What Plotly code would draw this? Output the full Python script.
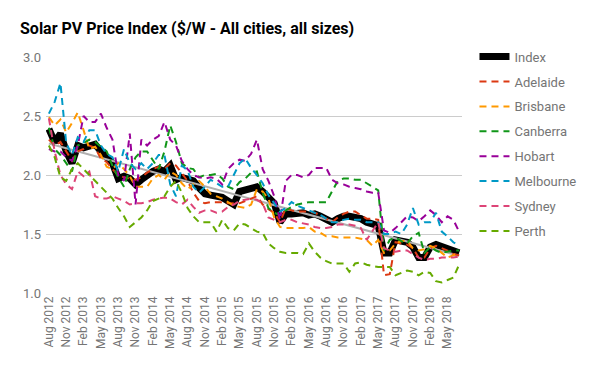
import numpy as np
import pandas as pd
import plotly.graph_objects as go

months = [d.strftime("%b %Y") for d in pd.date_range("2012-08-01", periods=72, freq="MS")]
tick_labels = months[::3]

index_vals = [2.39, 2.28, 2.35, 2.20, 2.10, 2.25, 2.23, 2.25, 2.26, 2.20, 2.15, 2.10,
              1.97, 1.99, 1.97, 1.92, 1.96, 2.00, 2.03, 2.05, 2.03, 2.08, 1.96, 1.98,
              1.97, 1.95, 1.89, 1.84, 1.83, 1.82, 1.81, 1.78, 1.75, 1.86, 1.87, 1.88,
              1.90, 1.86, 1.80, 1.76, 1.60, 1.67, 1.67, 1.68, 1.68, 1.66, 1.67, 1.65,
              1.62, 1.60, 1.63, 1.65, 1.65, 1.64, 1.63, 1.60, 1.59, 1.57, 1.34, 1.34,
              1.45, 1.44, 1.43, 1.39, 1.30, 1.30, 1.39, 1.41, 1.39, 1.37, 1.35, 1.34]
adelaide = [2.30, 2.25, 2.28, 2.20, 2.12, 2.20, 2.22, 2.25, 2.23, 2.14, 2.11, 2.05,
            2.00, 1.98, 1.97, 1.96, 1.98, 2.02, 2.05, 2.07, 2.05, 2.10, 2.08, 2.02,
            1.95, 1.85, 1.78, 1.76, 1.77, 1.77, 1.77, 1.76, 1.76, 1.76, 1.78, 1.80,
            1.82, 1.75, 1.71, 1.68, 1.60, 1.72, 1.70, 1.69, 1.69, 1.69, 1.68, 1.66,
            1.63, 1.60, 1.64, 1.67, 1.69, 1.69, 1.66, 1.63, 1.63, 1.62, 1.15, 1.16,
            1.43, 1.42, 1.41, 1.38, 1.30, 1.30, 1.38, 1.40, 1.38, 1.36, 1.33, 1.32]
brisbane = [2.49, 2.42, 2.47, 2.36, 2.44, 2.53, 2.38, 2.22, 2.24, 2.17, 2.07, 2.05,
            2.10, 2.05, 1.99, 1.90, 1.90, 1.90, 1.97, 2.00, 1.96, 2.03, 2.00, 1.93,
            1.88, 1.92, 1.95, 1.90, 1.84, 1.82, 1.80, 1.77, 1.74, 1.73, 1.72, 1.75,
            1.88, 1.86, 1.80, 1.64, 1.56, 1.55, 1.55, 1.55, 1.55, 1.56, 1.52, 1.51,
            1.48, 1.48, 1.47, 1.47, 1.47, 1.47, 1.46, 1.45, 1.40, 1.45, 1.34, 1.36,
            1.42, 1.44, 1.44, 1.38, 1.36, 1.37, 1.40, 1.38, 1.34, 1.30, 1.32, 1.34]
canberra = [2.40, 2.22, 2.17, 2.10, 2.03, 2.25, 2.27, 2.30, 2.28, 2.24, 2.20, 2.08,
            1.98, 1.90, 2.05, 2.15, 2.20, 2.20, 2.12, 2.05, 2.20, 2.42, 2.28, 2.10,
            2.06, 2.05, 1.98, 2.00, 2.00, 2.01, 1.97, 1.90, 1.88, 1.94, 1.97, 2.02,
            2.03, 1.85, 1.72, 1.68, 1.66, 1.70, 1.73, 1.75, 1.76, 1.77, 1.77, 1.77,
            1.77, 1.86, 1.95, 1.97, 1.97, 1.96, 1.96, 1.93, 1.90, 1.87, 1.36, 1.45,
            1.47, 1.44, 1.42, 1.48, 1.51, 1.34, 1.39, 1.36, 1.34, 1.35, 1.36, 1.36]
hobart = [2.22, 2.20, 2.20, 2.15, 2.12, 2.25, 2.50, 2.45, 2.45, 2.52, 2.40, 2.30,
          2.00, 1.95, 2.35, 1.75, 2.30, 2.25, 2.30, 2.33, 2.45, 2.30, 2.25, 2.12,
          2.05, 2.00, 1.98, 1.97, 1.98, 1.97, 1.92, 2.05, 2.10, 2.13, 2.12, 2.18,
          2.30, 2.05, 1.95, 1.82, 1.62, 1.95, 2.00, 2.00, 1.98, 2.00, 2.06, 2.06,
          2.06, 1.96, 1.93, 1.92, 1.90, 1.89, 1.88, 1.86, 1.85, 1.85, 1.53, 1.51,
          1.55, 1.60, 1.65, 1.64, 1.61, 1.65, 1.70, 1.66, 1.60, 1.65, 1.62, 1.52]
melbourne = [2.52, 2.62, 2.78, 2.27, 2.17, 2.32, 2.28, 2.38, 2.38, 2.25, 2.18, 2.15,
             2.03, 2.22, 2.10, 2.05, 2.10, 2.05, 2.10, 2.17, 2.17, 1.92, 1.82, 2.08,
             2.04, 1.90, 1.85, 1.90, 1.96, 1.93, 1.90, 1.90, 2.00, 2.10, 2.14, 2.06,
             2.00, 1.93, 1.83, 1.76, 1.69, 1.72, 1.77, 1.74, 1.72, 1.70, 1.68, 1.66,
             1.63, 1.60, 1.60, 1.62, 1.63, 1.62, 1.62, 1.60, 1.60, 1.60, 1.50, 1.50,
             1.52, 1.50, 1.58, 1.72, 1.58, 1.60, 1.60, 1.68, 1.52, 1.48, 1.43, 1.40]
sydney = [2.48, 2.20, 2.00, 1.92, 1.88, 2.03, 1.99, 2.03, 1.82, 1.80, 1.80, 1.82,
          1.80, 1.78, 1.75, 1.76, 1.76, 1.77, 1.79, 1.80, 1.81, 1.80, 1.77, 1.75,
          1.79, 1.73, 1.68, 1.70, 1.70, 1.68, 1.69, 1.73, 1.75, 1.78, 1.79, 1.80,
          1.79, 1.76, 1.64, 1.62, 1.60, 1.62, 1.62, 1.60, 1.59, 1.58, 1.56, 1.55,
          1.55, 1.56, 1.58, 1.58, 1.58, 1.57, 1.55, 1.45, 1.52, 1.60, 1.38, 1.36,
          1.35, 1.36, 1.36, 1.33, 1.30, 1.28, 1.29, 1.29, 1.30, 1.30, 1.30, 1.31]
perth = [2.25, 2.15, 1.98, 1.95, 2.05, 2.10, 2.05, 2.00, 1.95, 1.90, 1.85, 1.80,
         1.72, 1.65, 1.56, 1.60, 1.64, 1.70, 1.78, 1.80, 1.82, 1.90, 1.95, 1.85,
         1.72, 1.65, 1.60, 1.60, 1.60, 1.52, 1.62, 1.55, 1.53, 1.59, 1.58, 1.55,
         1.52, 1.51, 1.42, 1.38, 1.35, 1.34, 1.34, 1.34, 1.33, 1.42, 1.35, 1.30,
         1.27, 1.25, 1.25, 1.25, 1.18, 1.25, 1.26, 1.24, 1.23, 1.22, 1.22, 1.22,
         1.15, 1.17, 1.19, 1.18, 1.15, 1.18, 1.17, 1.10, 1.09, 1.11, 1.13, 1.24]

cities = [("Adelaide", adelaide, "#dc3912"), ("Brisbane", brisbane, "#ff9900"),
          ("Canberra", canberra, "#109618"), ("Hobart", hobart, "#990099"),
          ("Melbourne", melbourne, "#0099c6"), ("Sydney", sydney, "#dd4477"),
          ("Perth", perth, "#66aa00")]

FONT = "Roboto"
GRAY = "#757575"

fig = go.Figure()
fig.add_trace(go.Scatter(x=months, y=index_vals, name="Index", mode="lines",
                         line=dict(color="black", width=7), legendgroup="Index"))
# linear trendline of the index
xi = np.arange(len(index_vals))
coef = np.polyfit(xi, index_vals, 1)
trend = np.polyval(coef, xi)
fig.add_trace(go.Scatter(x=months, y=trend, mode="lines", showlegend=False,
                         line=dict(color="#b0b0b0", width=2), hoverinfo="skip"))
for name, vals, col in cities:
    fig.add_trace(go.Scatter(x=months, y=vals, name=name, mode="lines", legendgroup=name,
                             line=dict(color=col, width=2, dash="7px,5px")))

fig.update_layout(
    width=600, height=371,
    margin=dict(l=46, r=138, t=57, b=78),
    paper_bgcolor="white", plot_bgcolor="white",
    font=dict(family=FONT, size=12, color=GRAY),
    title=dict(text="<b>Solar PV Price Index ($/W - All cities, all sizes)</b>",
               x=20/600, xanchor="left", xref="container",
               y=1 - 28/371, yanchor="middle", yref="container",
               font=dict(family=FONT, size=16, color="black")),
    legend=dict(x=1.03, xanchor="left", y=1.065, yanchor="top",
                font=dict(family=FONT, size=13, color=GRAY),
                tracegroupgap=5, maxheight=320, bgcolor="rgba(0,0,0,0)"),
    showlegend=True,
)
fig.update_xaxes(type="category", categoryorder="array", categoryarray=months,
                 range=[-0.5, len(months) - 0.5],
                 tickmode="array", tickvals=tick_labels, ticktext=tick_labels,
                 tickangle=-90, showgrid=False, showline=False, zeroline=False,
                 ticks="", tickfont=dict(family=FONT, size=12, color=GRAY))
fig.update_yaxes(range=[1, 3], dtick=0.5, tick0=1, tickformat=".1f",
                 gridcolor="#cccccc", gridwidth=1, zeroline=False, showline=False,
                 ticks="", ticklabelstandoff=4,
                 tickfont=dict(family=FONT, size=13, color=GRAY))

fig.write_html("out.html", config={"displayModeBar": False},
               post_script="document.body.style.margin='0';")
